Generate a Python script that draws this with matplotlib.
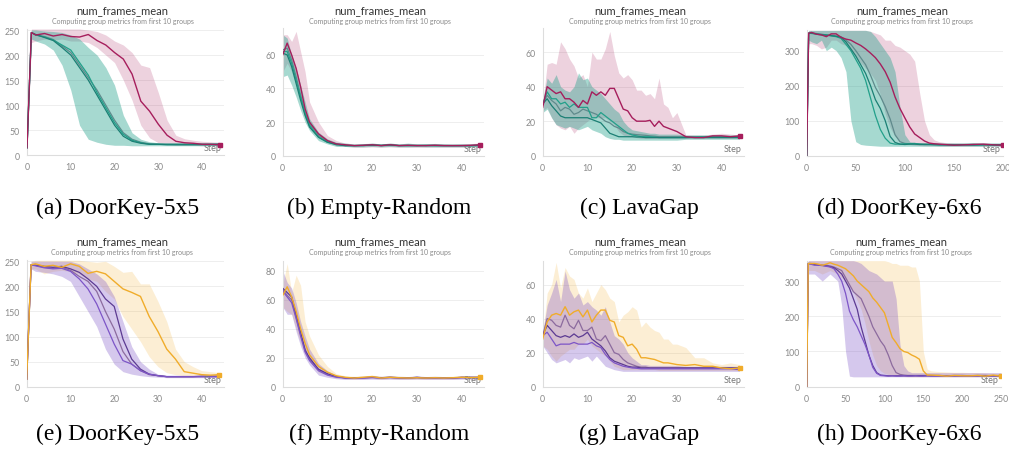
import numpy as np
import matplotlib.pyplot as plt

W, H = 1009, 452

# ---------------- data ----------------
# short runs: steps 0..44
steps_even = [0, 1, 2, 4, 6, 8, 10, 12, 14, 16, 18, 20, 22, 24, 26, 28, 30, 32, 34, 36, 38, 40, 42, 44]
steps_early = [0, 1, 2, 3, 4, 5, 6, 8, 10, 12, 14, 16, 18, 20, 22, 24, 26, 28, 30, 32, 34, 36, 38, 40, 42, 44]
steps_dense = list(range(0, 31)) + [32, 34, 36, 38, 40, 42, 44]
steps_6x6_top = [0, 2] + list(range(5, 145, 5)) + [150, 160, 170, 180, 190, 200]
steps_6x6_bot = [0, 2] + list(range(5, 165, 5)) + [170, 180, 190, 200, 210, 220, 230, 240, 250]

# (a) DoorKey-5x5, top row
a_acc = [15, 245, 240, 243, 238, 241, 237, 236, 241, 229, 220, 205, 192, 162, 108, 88, 62, 40, 28, 25, 24, 22, 22, 21]
a_acc_lo = [5, 225, 228, 232, 230, 232, 228, 228, 225, 215, 200, 185, 150, 110, 60, 35, 25, 22, 20, 20, 20, 19, 19, 19]
a_acc_hi = [20, 252, 252, 252, 252, 252, 252, 252, 250, 247, 240, 228, 220, 205, 180, 175, 125, 70, 40, 33, 30, 28, 27, 26]
a_l1 = [15, 245, 240, 236, 230, 220, 210, 185, 160, 125, 95, 65, 42, 30, 25, 22, 22, 22, 22, 22, 22, 22, 22, 22]
a_l2 = [15, 245, 241, 235, 229, 215, 200, 175, 150, 120, 90, 60, 38, 28, 24, 22, 22, 21, 21, 21, 21, 21, 21, 21]
a_l3 = [15, 245, 240, 237, 231, 218, 205, 180, 155, 130, 100, 70, 45, 32, 26, 23, 22, 22, 22, 22, 22, 22, 22, 23]
a_lo = [5, 232, 228, 222, 210, 180, 130, 60, 32, 26, 22, 20, 20, 19, 19, 19, 19, 19, 19, 19, 19, 19, 19, 19]
a_hi = [20, 250, 250, 248, 247, 245, 240, 232, 215, 200, 175, 140, 80, 45, 32, 27, 25, 24, 24, 24, 24, 24, 24, 24]

# (b) Empty-Random, top row
b_acc = [60, 67, 60, 52, 41, 28, 20, 13, 9, 7, 6.5, 6, 6.2, 6.5, 6, 6.5, 6, 6.2, 6, 6, 6.2, 6, 6, 6, 6.2, 6.5]
b_acc_lo = [50, 55, 50, 42, 33, 22, 17, 11, 8, 6, 5.5, 5, 5, 5.2, 5, 5.2, 5, 5, 5, 5, 5, 5, 5, 5, 5, 5.2]
b_acc_hi = [72, 72, 68, 74, 62, 50, 32, 20, 12, 9, 7.5, 7, 7.2, 7.5, 7, 7.5, 7, 7.2, 7, 7, 7.2, 7, 7, 7, 7.2, 7.5]
b_l1 = [62, 62, 55, 45, 35, 25, 18, 11, 8, 7, 6, 6, 6, 6.5, 6, 6.2, 6, 6.2, 6, 6, 6, 6, 6, 6, 6, 6.2]
b_l2 = [61, 60, 53, 43, 33, 24, 17, 11, 8, 6.5, 6, 6, 6.2, 6.2, 6.2, 6.5, 6, 6, 6, 6.2, 6, 6, 6, 6, 6, 6]
b_l3 = [63, 64, 57, 47, 36, 26, 19, 12, 8.5, 7, 6.2, 6, 6, 6.4, 6, 6.3, 6.1, 6, 6.2, 6, 6.2, 6.1, 6, 6.1, 6, 6.2]
b_lo = [47, 48, 42, 35, 27, 20, 15, 9, 7, 5.5, 5.5, 5.3, 5.3, 5.5, 5.3, 5.5, 5.3, 5.3, 5.4, 5.3, 5.3, 5.3, 5.3, 5.3, 5.3, 5.4]
b_hi = [72, 70, 60, 52, 42, 32, 22, 14, 10, 8, 7.5, 7, 7, 7.5, 7, 7.5, 7, 7.5, 7, 7, 7.3, 7, 7, 7, 7, 7.2]

# (c) LavaGap, top row
c_acc = [28, 40, 38, 36, 37, 33, 33, 31, 28, 32, 30, 37, 35, 37, 35, 39, 39, 33, 27, 26, 22, 20, 20, 20, 20.5, 17, 20, 17, 16, 15, 14,
         11, 10.5, 10.5, 11.5, 11.5, 11, 11.5]
c_acc_lo = [26, 28, 22, 18, 16, 15, 17, 13, 16, 18, 20, 22, 22, 22, 22, 20, 18, 14, 12, 11, 11, 10.5, 10, 10, 10, 10, 10, 10, 10, 10, 10,
            10, 10, 10, 10, 10, 10, 10]
c_acc_hi = [30, 53, 54, 53, 66, 62, 56, 52, 45, 47, 40, 60, 56, 56, 62, 72, 58, 48, 45, 47, 44, 38, 38, 35, 36, 33, 45, 30, 28, 22, 25,
            12, 12, 12, 12.5, 13, 12.5, 12]
c_l1 = [30, 37, 33, 33, 30, 31, 28, 30, 28, 28, 28, 22, 22, 25, 23, 21, 19, 17, 15, 13, 12, 11.5, 11, 11, 11, 10.8, 10.5, 10.5, 10.5, 10.5, 10.5,
        10.5, 10.8, 11, 11, 11, 11, 11]
c_l2 = [30, 35, 32, 30, 26, 28, 27, 24, 25, 27, 26, 25, 24, 22, 20, 19, 17, 16, 14, 13, 12.5, 12.2, 12, 11.8, 11.5, 11.3, 11, 11, 11, 11, 11,
        11, 11, 11, 11, 11, 11, 11]
c_l3 = [30, 33, 29, 26, 23, 22, 22, 22, 22, 22, 22, 21, 20, 19, 16, 13, 12, 11, 11, 11, 11, 10.8, 10.8, 10.5, 10.5, 10.5, 10.5, 10.5, 10.5, 10.5, 10.5,
        10.5, 10.5, 10.5, 10.5, 10.5, 10.5, 10.5]
c_lo = [25, 27, 22, 18, 17, 16, 17, 16, 15, 16, 17, 15, 14, 13, 11, 10, 9.5, 9.5, 9, 9, 9, 9, 9, 9, 9, 9, 9, 9, 9, 9, 9,
        9.5, 9.5, 9.5, 9.5, 9.5, 9.5, 9.5]
c_hi = [32, 45, 42, 47, 40, 38, 37, 40, 48, 44, 45, 40, 38, 36, 33, 30, 27, 25, 20, 17, 15, 14.5, 14, 13.5, 13, 13, 12.5, 12.5, 12.5, 12.5, 12.5,
        12, 12, 12, 12, 12, 12, 12]

# (d) DoorKey-6x6, top row
d_acc = [0, 350, 352, 347, 345, 340, 348, 348, 338, 333, 330, 322, 315, 305, 293, 280, 262, 240, 210, 168, 135, 108, 82, 62, 52, 42, 36, 34, 33, 32,
         30, 31, 32, 33, 31, 30]
d_acc_lo = [0, 320, 320, 315, 305, 310, 330, 330, 320, 315, 300, 280, 265, 250, 235, 215, 175, 120, 80, 55, 42, 35, 32, 30, 29, 28, 28, 28, 27, 27,
            27, 27, 27, 27, 27, 27]
d_acc_hi = [0, 358, 358, 358, 358, 358, 358, 358, 358, 358, 358, 358, 358, 358, 355, 350, 345, 330, 330, 315, 310, 300, 290, 270, 180, 100, 60, 45, 40, 38,
            36, 36, 35, 36, 35, 35]
d_l1 = [0, 350, 349, 348, 346, 345, 342, 340, 335, 318, 300, 275, 250, 215, 165, 115, 75, 50, 36, 33, 33, 34, 34, 35, 33, 32, 32, 31, 31, 31,
        30, 31, 30, 31, 30, 30]
d_l2 = [0, 350, 350, 347, 345, 344, 343, 341, 338, 325, 305, 285, 260, 235, 200, 160, 135, 100, 55, 38, 33, 32, 33, 33, 32, 32, 32, 32, 31, 31,
        31, 31, 31, 31, 31, 31]
d_l3 = [0, 350, 351, 349, 347, 345, 344, 342, 340, 330, 318, 300, 280, 260, 230, 195, 170, 140, 105, 60, 40, 35, 34, 34, 33, 33, 33, 33, 32, 32,
        32, 32, 33, 32, 32, 32]
d_lo = [0, 330, 325, 320, 330, 300, 310, 300, 280, 240, 100, 40, 32, 30, 29, 28, 27, 27, 27, 27, 27, 27, 27, 27, 27, 27, 27, 27, 27, 27,
        27, 27, 27, 27, 27, 27]
d_hi = [0, 358, 358, 358, 358, 358, 358, 358, 358, 358, 358, 358, 358, 358, 355, 340, 320, 300, 280, 240, 140, 60, 40, 38, 37, 37, 36, 36, 36, 36,
        36, 36, 36, 36, 36, 36]

# (e) DoorKey-5x5, bottom row
e_acc = [15, 243, 245, 240, 242, 238, 245, 240, 226, 230, 225, 210, 195, 188, 180, 140, 110, 75, 55, 30, 27, 24, 23, 24]
e_acc_lo = [5, 235, 235, 225, 230, 232, 230, 225, 215, 210, 190, 175, 140, 115, 90, 60, 40, 28, 24, 22, 21, 21, 20, 20]
e_acc_hi = [20, 250, 252, 252, 252, 252, 252, 252, 250, 248, 250, 240, 228, 230, 205, 205, 170, 130, 75, 50, 40, 32, 30, 28]
e_l1 = [15, 243, 242, 240, 238, 240, 235, 228, 215, 200, 175, 160, 95, 55, 35, 25, 22, 20, 20, 20, 20, 21, 21, 21]
e_l2 = [15, 243, 242, 238, 236, 238, 232, 220, 210, 190, 150, 115, 70, 45, 32, 24, 22, 20, 20, 20, 20, 20, 20, 20]
e_l3 = [15, 243, 241, 237, 235, 236, 230, 215, 195, 165, 125, 85, 52, 45, 32, 25, 22, 20, 20, 20, 20, 20, 20, 20]
e_lo = [5, 235, 230, 228, 225, 220, 210, 180, 150, 120, 75, 45, 30, 25, 22, 20, 19, 18, 18, 18, 18, 18, 18, 18]
e_hi = [20, 250, 250, 250, 250, 250, 250, 245, 235, 225, 210, 180, 130, 80, 50, 35, 25, 23, 23, 23, 23, 23, 23, 23]

# (f) Empty-Random, bottom row
f_acc = [63, 69, 62, 52, 40, 30, 22, 14, 10, 7.5, 6.5, 6, 6.5, 7, 6, 6.5, 6.2, 6, 6.2, 6, 6.2, 6, 6.2, 6.5, 6.3, 6.5]
f_acc_lo = [55, 52, 50, 40, 30, 22, 18, 10, 8, 6, 5.5, 5.2, 5.5, 5.8, 5.2, 5.5, 5.3, 5.2, 5.3, 5.2, 5.3, 5.2, 5.3, 5.5, 5.4, 5.5]
f_acc_hi = [70, 85, 65, 77, 70, 45, 35, 22, 14, 9, 7.5, 7.2, 7.5, 8, 7.2, 7.5, 7.2, 7, 7.2, 7, 7.2, 7, 7.2, 7.5, 7.3, 7.5]
f_l1 = [68, 65, 62, 50, 38, 25, 20, 12, 9, 7, 6, 6, 6.2, 6.5, 6.2, 6.5, 6.2, 6, 6.5, 6, 6.2, 6, 6, 6.5, 6.5, 6.5]
f_l2 = [66, 62, 58, 47, 35, 24, 18, 11, 8, 6.5, 6, 6, 6, 6.3, 6, 6.3, 6, 6, 6.2, 6, 6, 6, 6, 6.2, 6.2, 6]
f_l3 = [67, 63, 60, 48, 36, 26, 19, 12, 8.5, 7, 6.2, 6, 6.2, 6.4, 6.1, 6.4, 6.1, 6, 6.3, 6, 6.1, 6, 6, 6.3, 6.3, 6.2]
f_lo = [55, 50, 50, 38, 28, 20, 15, 8, 6.5, 5.5, 5, 5, 5, 5.2, 5, 5.2, 5, 5, 5.2, 5, 5, 5, 5, 5.2, 5.2, 5]
f_hi = [80, 72, 68, 58, 45, 35, 26, 16, 11, 8, 7, 7, 7.2, 7.5, 7.2, 7.5, 7.2, 7, 7.5, 7, 7.2, 7, 7, 7.5, 7.5, 7.5]

# (g) LavaGap, bottom row
g_acc = [28, 38, 42, 43, 42, 47, 42, 44, 45, 41, 45, 38, 42, 45, 45, 39, 38, 30, 29, 24, 25, 22, 17, 17, 16.5, 16, 15, 14, 14, 13.5, 13,
         12.5, 13, 12, 12, 11, 10.5, 11]
g_acc_lo = [24, 22, 18, 15, 18, 20, 22, 22, 25, 25, 28, 24, 22, 20, 18, 15, 12, 11, 10, 10, 10, 10, 10, 10, 10, 10, 9.5, 9.5, 9.5, 9.5, 9.5,
            9.5, 9.5, 9.5, 9.5, 9.5, 9.5, 9.5]
g_acc_hi = [30, 55, 60, 73, 58, 70, 65, 63, 55, 52, 58, 50, 55, 60, 57, 52, 50, 38, 42, 44, 47, 45, 35, 38, 35, 33, 32, 28, 28, 25, 25,
            23, 17, 17, 14, 13, 14, 13]
g_l1 = [30, 40, 39, 36, 35, 42, 36, 34, 39, 33, 33, 35, 28, 27, 30, 25, 20, 19, 16, 14, 13, 12, 11.5, 11.5, 11, 11, 11, 11, 11, 11, 11,
        11, 11, 11, 11, 11, 11, 11]
g_l2 = [30, 36, 33, 30, 29, 30, 29, 31, 29, 30, 32, 28, 26, 24, 21, 17, 15, 14, 13, 12, 11.5, 11.5, 11, 11, 11, 11, 11, 11, 11, 11, 11,
        11, 11, 11, 11, 11, 11, 11]
g_l3 = [30, 32, 28, 24, 25, 25, 25, 26, 25, 25, 25, 26, 24, 23, 19, 16, 14, 13, 12, 11.5, 11, 10.8, 10.5, 10.5, 10.5, 10.5, 10.5, 10.5, 10.5, 10.5, 10.5,
        10.5, 10.5, 10.5, 10.5, 10.5, 10.5, 10]
g_lo = [24, 20, 16, 14, 15, 16, 14, 17, 16, 17, 18, 15, 18, 15, 12, 11, 10, 9.5, 9, 9, 9, 9, 9, 9, 9, 9, 9, 9, 9, 9, 9,
        9, 9, 9, 9, 9, 9, 9]
g_hi = [32, 48, 55, 63, 50, 68, 57, 52, 55, 48, 50, 47, 45, 42, 47, 38, 30, 28, 25, 20, 17, 15, 13, 13, 12.5, 12.5, 12.5, 12.5, 12.5, 12.5, 12.5,
        12, 12, 12, 12, 12, 12, 12]

# (h) DoorKey-6x6, bottom row
h_acc = [0, 350, 350, 350, 348, 345, 348, 352, 348, 345, 340, 335, 325, 315, 300, 290, 280, 270, 252, 240, 225, 210, 175, 140, 125, 108, 100, 97, 90, 85,
         78, 45, 33, 33, 32, 30, 32, 31, 31, 32, 30, 33, 30]
h_acc_lo = [0, 330, 330, 330, 325, 320, 325, 330, 325, 320, 310, 300, 285, 270, 245, 220, 180, 130, 90, 60, 45, 38, 35, 33, 31, 30, 29, 28, 28, 28,
            28, 28, 28, 28, 28, 28, 28, 28, 28, 28, 28, 28, 28]
h_acc_hi = [0, 358, 358, 358, 358, 358, 358, 358, 358, 358, 358, 358, 358, 358, 358, 358, 358, 358, 358, 358, 358, 358, 355, 350, 350, 345, 345, 345, 340, 340,
            300, 100, 50, 45, 43, 42, 41, 41, 40, 40, 39, 38, 38]
h_l1 = [0, 350, 348, 345, 345, 345, 342, 340, 335, 320, 300, 265, 215, 190, 170, 145, 120, 90, 55, 38, 32, 31, 30, 31, 30, 30, 31, 30, 30, 31,
        30, 30, 31, 30, 30, 31, 30, 30, 31, 30, 30, 31, 30]
h_l2 = [0, 350, 350, 348, 346, 345, 345, 343, 340, 335, 330, 310, 290, 270, 260, 250, 225, 200, 170, 150, 130, 115, 90, 60, 40, 35, 33, 32, 32, 32,
        32, 32, 32, 32, 32, 31, 32, 32, 31, 32, 32, 31, 32]
h_l3 = [0, 350, 349, 347, 345, 344, 343, 341, 338, 330, 320, 300, 280, 250, 220, 170, 130, 90, 60, 40, 33, 32, 31, 31, 31, 31, 31, 31, 31, 31,
        31, 31, 31, 31, 31, 31, 31, 31, 31, 31, 31, 31, 31]
h_lo = [0, 320, 320, 320, 310, 300, 310, 320, 310, 300, 230, 100, 30, 28, 28, 28, 28, 28, 28, 28, 28, 28, 28, 28, 28, 28, 28, 28, 28, 28,
        28, 28, 28, 28, 28, 28, 28, 28, 28, 28, 28, 28, 28]
h_hi = [0, 358, 358, 358, 358, 358, 358, 358, 358, 358, 358, 358, 358, 358, 355, 350, 340, 330, 325, 320, 310, 300, 300, 300, 250, 120, 60, 45, 40, 40,
        40, 40, 40, 40, 40, 40, 40, 40, 40, 40, 40, 40, 40]

captions_top = ["(a) DoorKey-5x5", "(b) Empty-Random", "(c) LavaGap", "(d) DoorKey-6x6"]
captions_bot = ["(e) DoorKey-5x5", "(f) Empty-Random", "(g) LavaGap", "(h) DoorKey-6x6"]
title = "num_frames_mean"
subtitle = "Computing group metrics from first 10 groups"

# ---------------- styling ----------------
MAGENTA = '#a61e5c'
TEAL, TEAL_DARK, TEAL_GRAY = '#22a08a', '#1b7f74', '#5f8a8c'
YELLOW = '#f0ac2a'
PURPLE, PURPLE_DARK, PURPLE_MAUVE = '#7d55c7', '#5c3a92', '#8c6b9e'
UI_FONT = ['Lato', 'DejaVu Sans']

fig = plt.figure(figsize=(W / 100, H / 100), dpi=100)


def panel(box, x, acc, acc_lo, acc_hi, lines, lo, hi, xlim, ylim, xticks, yticks, colors):
    left, right, top, bottom = box
    ax = fig.add_axes([left / W, 1 - bottom / H, (right - left) / W, (bottom - top) / H])
    acc_col, band_col, band_alpha, line_cols = colors

    ax.fill_between(x, acc_lo, acc_hi, color=acc_col, alpha=0.2, lw=0, zorder=1)
    ax.fill_between(x, lo, hi, color=band_col, alpha=band_alpha, lw=0, zorder=2)
    for vals, c in zip(lines, line_cols):
        ax.plot(x, vals, color=c, lw=0.9, zorder=3)
    ax.plot(x, acc, color=acc_col, lw=1.0, zorder=4)
    ax.plot(x[-1], acc[-1], 's', color=acc_col, ms=2.5, zorder=5)

    ax.set_xlim(*xlim)
    ax.set_ylim(*ylim)
    ax.set_xticks(xticks)
    ax.set_yticks(yticks)
    ax.tick_params(length=0, labelsize=6.3, colors='#8a8a8a', pad=5)
    for lab in ax.get_xticklabels() + ax.get_yticklabels():
        lab.set_family(UI_FONT)
    ax.grid(axis='y', color='#eeeeee', lw=0.7)
    ax.set_axisbelow(True)
    for s in ['top', 'right']:
        ax.spines[s].set_visible(False)
    for s in ['left', 'bottom']:
        ax.spines[s].set_color('#dddddd')
        ax.spines[s].set_linewidth(0.8)
    ax.text(0.99, 0.025, 'Step', transform=ax.transAxes, ha='right', va='bottom',
            fontsize=6.5, color='#777777', family=UI_FONT)

    cx = (left + right) / 2 - 3
    return ax, cx


top_cols = (MAGENTA, TEAL, 0.4, [TEAL_GRAY, TEAL, TEAL_DARK])
bot_cols = (YELLOW, PURPLE, 0.32, [PURPLE_MAUVE, PURPLE_DARK, PURPLE])

short_x = [0, 10, 20, 30, 40]
panels = [
    ((27, 224, 30, 156.3), steps_even, a_acc, a_acc_lo, a_acc_hi, [a_l3, a_l1, a_l2], a_lo, a_hi,
     (0, 45), (0, 252), short_x, [0, 50, 100, 150, 200, 250], top_cols),
    ((282.7, 484, 29, 156.7), steps_early, b_acc, b_acc_lo, b_acc_hi, [b_l3, b_l1, b_l2], b_lo, b_hi,
     (0, 45), (0, 76), short_x, [0, 20, 40, 60], top_cols),
    ((542.7, 744, 29, 156.7), steps_dense, c_acc, c_acc_lo, c_acc_hi, [c_l2, c_l1, c_l3], c_lo, c_hi,
     (0, 45), (0, 74), short_x, [0, 20, 40, 60], top_cols),
    ((806.7, 1003, 31, 156.7), steps_6x6_top, d_acc, d_acc_lo, d_acc_hi, [d_l3, d_l1, d_l2], d_lo, d_hi,
     (0, 200), (0, 359), [0, 50, 100, 150, 200], [0, 100, 200, 300], top_cols),
    ((26.7, 223.6, 261.3, 387.7), steps_even, e_acc, e_acc_lo, e_acc_hi, [e_l2, e_l1, e_l3], e_lo, e_hi,
     (0, 45), (0, 252), short_x, [0, 50, 100, 150, 200, 250], bot_cols),
    ((282.7, 484, 261.7, 387.7), steps_early, f_acc, f_acc_lo, f_acc_hi, [f_l3, f_l1, f_l2], f_lo, f_hi,
     (0, 45), (0, 87), short_x, [0, 20, 40, 60, 80], bot_cols),
    ((542.7, 744, 261.7, 387.7), steps_dense, g_acc, g_acc_lo, g_acc_hi, [g_l1, g_l2, g_l3], g_lo, g_hi,
     (0, 45), (0, 74), short_x, [0, 20, 40, 60], bot_cols),
    ((806.7, 1001, 262, 387.7), steps_6x6_bot, h_acc, h_acc_lo, h_acc_hi, [h_l2, h_l3, h_l1], h_lo, h_hi,
     (0, 250), (0, 357), [0, 50, 100, 150, 200, 250], [0, 100, 200, 300], bot_cols),
]

for i, p in enumerate(panels):
    ax, cx = panel(*p)
    row = i // 4
    ty = 11 if row == 0 else 241.7
    fig.text(cx / W, 1 - ty / H, title, ha='center', va='center', fontsize=8,
             color='#333333', family=UI_FONT)
    fig.text(cx / W, 1 - (ty + 10.5) / H, subtitle, ha='center', va='center', fontsize=5,
             color='#8a8a8a', family=UI_FONT)

cap_x = [118, 379, 639, 899]
for i in range(4):
    fig.text(cap_x[i] / W, 1 - 208 / H, captions_top[i], ha='center', va='center',
             fontsize=17, family='Liberation Serif', color='black')
    fig.text(cap_x[i] / W, 1 - 434 / H, captions_bot[i], ha='center', va='center',
             fontsize=17, family='Liberation Serif', color='black')

fig.savefig('out.png', dpi=100)
